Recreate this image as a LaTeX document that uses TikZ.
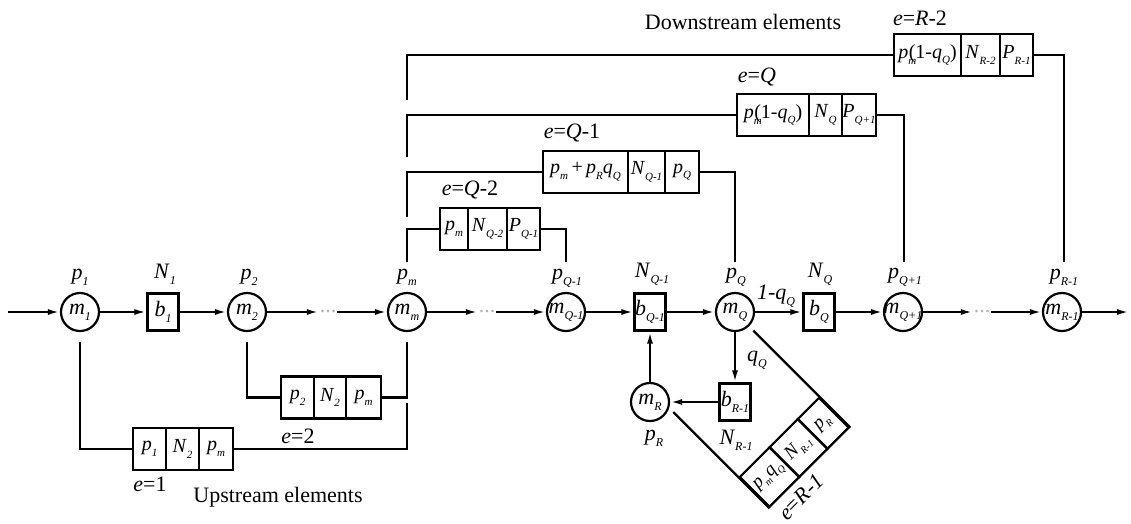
\documentclass[tikz,border=0pt]{standalone}
\usepackage{fontspec}
\setmainfont{Liberation Serif}
\usetikzlibrary{arrows.meta,calc}
% size of subscripts, changed locally inside the cells
\newcommand\subsz{12}
% variable with a small italic subscript
\newcommand\V[2]{\textit{#1}\raisebox{-0.28em}{\fontsize{\subsz}{\subsz}\selectfont\itshape #2}}
% p with the subscript m tucked under it
\newcommand\Pm{\textit{p}\rlap{\raisebox{-0.3em}{\fontsize{\subsz}{\subsz}\selectfont\itshape m}}\kern0.5pt}
% zero-width text so that circles keep their size
\newcommand\mk[1]{\makebox[0pt]{#1}}
\begin{document}
\begin{tikzpicture}[x=1pt,y=-1pt,
  every node/.style={font=\fontsize{22}{26}\selectfont},
  ln/.style={line width=2.2pt},
  arr/.style={ln,-{Latex[length=12pt,width=6pt]}},
  mach/.style={circle,draw,line width=2.2pt,minimum size=38pt,inner sep=0pt},
  buf/.style={rectangle,draw,line width=2.2pt,minimum width=31pt,minimum height=37pt,inner sep=0pt},
  cell/.style={rectangle,draw,line width=2.2pt,minimum height=42pt,inner sep=0pt,
    font=\fontsize{20}{24}\selectfont\def\subsz{11}},
  lbl/.style={inner sep=0pt},
  dotn/.style={inner sep=0pt,minimum width=18pt,text=gray!60}
]
\useasboundingbox (0,0) rectangle (1131,523);

% ---- main line ----
\coordinate (in) at (8,312);
\node[mach] (m1)  at (80,312)   {\mk{\V{m}{1}}};
\node[buf]  (b1)  at (163,312)  {\V{b}{1}};
\node[mach] (m2)  at (247,312)  {\mk{\V{m}{2}}};
\node[dotn] (d1)  at (328,312)  {...};
\node[mach] (mm)  at (407,312)  {\mk{\V{m}{m}}};
\node[dotn] (d2)  at (487,312)  {...};
\node[mach] (mq1) at (566,312)  {\mk{\V{m}{Q-1}}};
\node[buf]  (bq1) at (650,312)  {\mk{\V{b}{Q-1}}};
\node[mach] (mq)  at (735,312)  {\mk{\V{m}{Q}}};
\node[buf]  (bq)  at (819,312)  {\V{b}{Q}};
\node[mach] (mq2) at (903,312)  {\mk{\V{m}{Q+1}}};
\node[dotn] (d3)  at (982,312)  {...};
\node[mach] (mr1) at (1062,312) {\mk{\V{m}{R-1}}};
\coordinate (out) at (1129,312);

\draw[arr] (in) -- (m1);
\draw[arr] (m1) -- (b1);
\draw[arr] (b1) -- (m2);
\draw[arr] (m2) -- (d1);
\draw[arr] (d1) -- (mm);
\draw[arr] (mm) -- (d2);
\draw[arr] (d2) -- (mq1);
\draw[arr] (mq1) -- (bq1);
\draw[arr] (bq1) -- (mq);
\draw[arr] (mq) -- (bq);
\draw[arr] (bq) -- (mq2);
\draw[arr] (mq2) -- (d3);
\draw[arr] (d3) -- (mr1);
\draw[arr] (mr1) -- (out);

% labels above the line
\node[lbl] (lp1)  at (80,277)   {\V{p}{1}};
\node[lbl] (ln1)  at (165,274)  {\V{N}{1}};
\node[lbl] (lp2)  at (249,277)  {\V{p}{2}};
\node[lbl] (lpm)  at (407,277)  {\V{p}{m}};
\node[lbl] (lpq1) at (567,278)  {\V{p}{Q-1}};
\node[lbl] (lnq1) at (652,274)  {\V{N}{Q-1}};
\node[lbl] (lpq)  at (736,277)  {\V{p}{Q}};
\node[lbl] (lnq)  at (820,274)  {\V{N}{Q}};
\node[lbl] (lpq2) at (905,277)  {\V{p}{Q+1}};
\node[lbl] (lpr1) at (1064,277) {\V{p}{R-1}};
\node[lbl] (l1q)  at (776,296)  {\textit{1}-\V{q}{Q}};

% ---- rework loop ----
\node[mach] (mr)  at (650,402) {\mk{\V{m}{R}}};
\node[buf]  (br1) at (735,402) {\V{b}{R-1}};
\draw[arr] (mq) -- (br1);
\draw[arr] (br1) -- (mr);
\draw[arr] (mr) -- (bq1);
\node[lbl] (lqq)  at (757,360) {\V{q}{Q}};
\node[lbl] (lnr1) at (736,440) {\V{N}{R-1}};
\node[lbl] (lpr)  at (654,438) {\V{p}{R}};

% element e=R-1, turned by 45 degrees
\begin{scope}[every node/.append style={font=\fontsize{19}{22}\selectfont\def\subsz{10}}]
\node[cell,rotate=45,minimum width=42pt,font=\fontsize{19}{22}\selectfont\def\subsz{10}] (ra) at (769.5,477)   {\V{p}{m}\kern1pt\V{q}{Q}};
\node[cell,rotate=45,minimum width=40pt,font=\fontsize{19}{22}\selectfont\def\subsz{10}] (rb) at (798.5,448)   {\V{N}{R-1}};
\node[cell,rotate=45,minimum width=30pt,font=\fontsize{19}{22}\selectfont\def\subsz{10}] (rc) at (823.25,423.25) {\V{p}{R}};
\end{scope}
\coordinate (rqs) at ($(rc.south east)!137pt!(rc.north east)$);
\coordinate (rrs) at ($(ra.south west)!136pt!(ra.north west)$);
\draw[ln] (rqs) -- (rc.south east);
\draw[ln] (rrs) -- (ra.south west);
\node[lbl,rotate=45] (le5) at (801,497) {\textit{e}=\textit{R}-\textit{1}};

% ---- upstream elements ----
\node[cell,minimum width=33pt] (c21) at (297.5,397.5) {\V{p}{2}};
\node[cell,minimum width=32pt] (c22) at (330,397.5)   {\V{N}{2}};
\node[cell,minimum width=35pt] (c23) at (363.5,397.5) {\V{p}{m}};
\coordinate (u2a) at (247,342);
\coordinate (u2b) at (407,342);
\draw[ln] (u2a) |- (c21.west);
\draw[ln] (c23.east) -| (u2b);
\node[lbl] (le2) at (298,436) {\textit{e}=2};

\node[cell,minimum width=33pt] (c11) at (149.5,449) {\V{p}{1}};
\node[cell,minimum width=33pt] (c12) at (182.5,449) {\V{N}{2}};
\node[cell,minimum width=34pt] (c13) at (216,449)   {\V{p}{m}};
\coordinate (u1a) at (80,342);
\coordinate (u1b) at (407,403);
\draw[ln] (u1a) |- (c11.west);
\draw[ln] (c13.east) -| (u1b);
\node[lbl] (le1) at (150,484) {\textit{e}=1};
\node[lbl] (lup) at (278,497) {Upstream elements};

% ---- downstream elements ----
\node[cell,minimum width=28pt] (cq21) at (454,229)   {\V{p}{m}};
\node[cell,minimum width=39pt] (cq22) at (487.5,229) {\V{N}{Q-2}};
\node[cell,minimum width=33pt] (cq23) at (523.5,229) {\V{P}{Q-1}};
\coordinate (t1a) at (407,262);
\coordinate (t1b) at (566,262);
\draw[ln] (t1a) |- (cq21.west);
\draw[ln] (cq23.east) -| (t1b);
\node[lbl] (le3) at (470,190) {\textit{e}=\textit{Q}-2};

\node[cell,minimum width=85pt] (cq11) at (585.5,172) {\V{p}{m}\,+\,\V{p}{R}\V{q}{Q}};
\node[cell,minimum width=37pt] (cq12) at (646.5,172) {\V{N}{Q-1}};
\node[cell,minimum width=34pt] (cq13) at (682,172)   {\V{p}{Q}};
\coordinate (t2a) at (407,217);
\coordinate (t2b) at (735,262);
\draw[ln] (t2a) |- (cq11.west);
\draw[ln] (cq13.east) -| (t2b);
\node[lbl] (le4) at (572,133) {\textit{e}=\textit{Q}-1};

\node[cell,minimum width=72pt] (cq01) at (773,115)   {\Pm(1-\V{q}{Q})};
\node[cell,minimum width=33pt] (cq02) at (825.5,115) {\V{N}{Q}};
\node[cell,minimum width=34pt] (cq03) at (859,115)   {\V{P}{Q+1}};
\coordinate (t3a) at (407,157);
\coordinate (t3b) at (904,262);
\draw[ln] (t3a) |- (cq01.west);
\draw[ln] (cq03.east) -| (t3b);
\node[lbl] (le6) at (757,77) {\textit{e}=\textit{Q}};

\node[cell,minimum width=67pt] (cr21) at (927.5,55)  {\Pm(1-\V{q}{Q})};
\node[cell,minimum width=39pt] (cr22) at (980.5,55)  {\V{N}{R-2}};
\node[cell,minimum width=33pt] (cr23) at (1016.5,55) {\V{P}{R-1}};
\coordinate (t4a) at (407,100);
\coordinate (t4b) at (1064,262);
\draw[ln] (t4a) |- (cr21.west);
\draw[ln] (cr23.east) -| (t4b);
\node[lbl] (le7) at (920,18) {\textit{e}=\textit{R}-2};
\node[lbl] (ldown) at (743,22) {Downstream elements};
\end{tikzpicture}
\end{document}
